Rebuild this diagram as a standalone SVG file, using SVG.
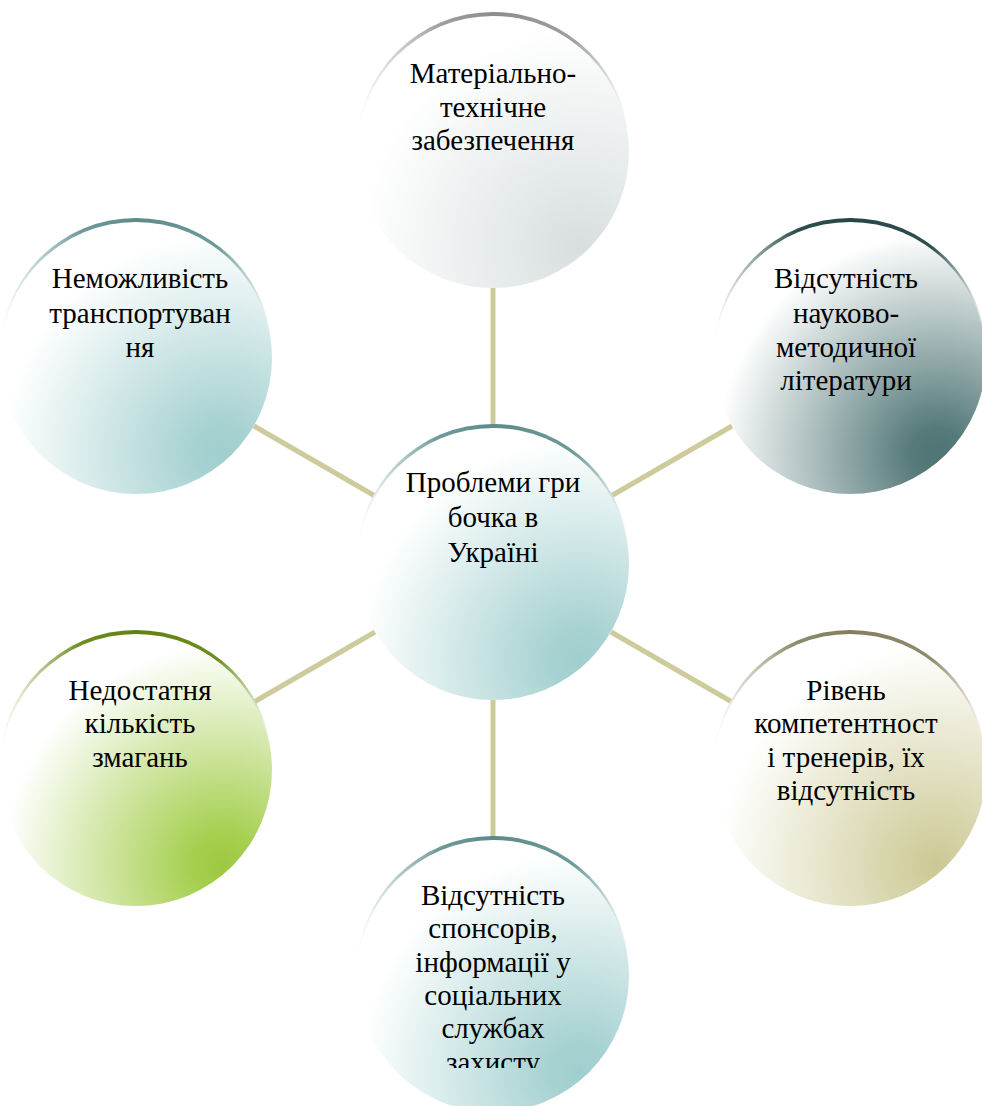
<svg xmlns="http://www.w3.org/2000/svg" width="982" height="1106" viewBox="0 0 982 1106">
<style>
text{font-family:"Liberation Serif","Times New Roman","DejaVu Serif",serif;font-size:29px;fill:#000;text-anchor:middle}
.con{stroke:#cdcb9b;stroke-width:5;fill:none}
</style>
<defs>
<radialGradient id="gTeal" cx="0.82" cy="0.85" r="0.95" fx="0.82" fy="0.85"><stop offset="0" stop-color="#a0cece"/><stop offset="0.12" stop-color="#a8d2d2"/><stop offset="0.85" stop-color="#ffffff"/></radialGradient>
<radialGradient id="gGrey" cx="0.82" cy="0.85" r="0.95" fx="0.82" fy="0.85"><stop offset="0" stop-color="#d8dede"/><stop offset="0.12" stop-color="#dde3e3"/><stop offset="0.85" stop-color="#ffffff"/></radialGradient>
<radialGradient id="gDark" cx="0.82" cy="0.85" r="0.95" fx="0.82" fy="0.85"><stop offset="0" stop-color="#4e7474"/><stop offset="0.1" stop-color="#567a7a"/><stop offset="0.85" stop-color="#ffffff"/></radialGradient>
<radialGradient id="gGreen" cx="0.82" cy="0.85" r="0.95" fx="0.82" fy="0.85"><stop offset="0" stop-color="#9dc840"/><stop offset="0.12" stop-color="#a6cf50"/><stop offset="0.85" stop-color="#ffffff"/></radialGradient>
<radialGradient id="gOlive" cx="0.82" cy="0.85" r="0.95" fx="0.82" fy="0.85"><stop offset="0" stop-color="#ccc894"/><stop offset="0.12" stop-color="#d3d0a2"/><stop offset="0.85" stop-color="#ffffff"/></radialGradient>
<linearGradient id="aTeal" x1="0" y1="0" x2="1" y2="0"><stop offset="0" stop-color="#ffffff"/><stop offset="0.3" stop-color="#6f9a9a"/><stop offset="0.5" stop-color="#5e8a8a"/><stop offset="0.8" stop-color="#6f9a9a"/><stop offset="1" stop-color="#ffffff"/></linearGradient>
<linearGradient id="aGrey" x1="0" y1="0" x2="1" y2="0"><stop offset="0" stop-color="#ffffff"/><stop offset="0.3" stop-color="#a0a0a0"/><stop offset="0.5" stop-color="#8c8c8c"/><stop offset="0.8" stop-color="#a0a0a0"/><stop offset="1" stop-color="#ffffff"/></linearGradient>
<linearGradient id="aDark" x1="0" y1="0" x2="1" y2="0"><stop offset="0" stop-color="#ffffff"/><stop offset="0.3" stop-color="#2f4f4f"/><stop offset="0.5" stop-color="#274545"/><stop offset="0.8" stop-color="#2f4f4f"/><stop offset="1" stop-color="#ffffff"/></linearGradient>
<linearGradient id="aGreen" x1="0" y1="0" x2="1" y2="0"><stop offset="0" stop-color="#ffffff"/><stop offset="0.3" stop-color="#6b8e1e"/><stop offset="0.5" stop-color="#5f8214"/><stop offset="0.8" stop-color="#6b8e1e"/><stop offset="1" stop-color="#ffffff"/></linearGradient>
<linearGradient id="aOlive" x1="0" y1="0" x2="1" y2="0"><stop offset="0" stop-color="#ffffff"/><stop offset="0.3" stop-color="#8e8c6a"/><stop offset="0.5" stop-color="#807e5c"/><stop offset="0.8" stop-color="#8e8c6a"/><stop offset="1" stop-color="#ffffff"/></linearGradient>
<clipPath id="clipBottom"><rect x="350" y="840" width="290" height="228"/></clipPath>
</defs>
<g id="connectors">
<line class="con" x1="493" y1="288" x2="493" y2="428"/>
<line class="con" x1="611" y1="496" x2="732" y2="426"/>
<line class="con" x1="611" y1="632" x2="732" y2="702"/>
<line class="con" x1="493" y1="700" x2="493" y2="840"/>
<line class="con" x1="375" y1="632" x2="254" y2="702"/>
<line class="con" x1="375" y1="496" x2="254" y2="426"/>
</g>
<g id="node-top">
<circle cx="493" cy="148" r="136" fill="url(#aGrey)"/>
<circle cx="493" cy="152" r="136" fill="url(#gGrey)"/>
<text x="493" y="83">Матеріально-</text>
<text x="493" y="117">технічне</text>
<text x="493" y="150">забезпечення</text>
</g>
<g id="node-upper-right">
<circle cx="850" cy="354" r="136" fill="url(#aDark)"/>
<circle cx="850" cy="358" r="136" fill="url(#gDark)"/>
<text x="846" y="288">Відсутність</text>
<text x="846" y="323">науково-</text>
<text x="846" y="357">методичної</text>
<text x="846" y="390">літератури</text>
</g>
<g id="node-lower-right">
<circle cx="850" cy="766" r="136" fill="url(#aOlive)"/>
<circle cx="850" cy="770" r="136" fill="url(#gOlive)"/>
<text x="846" y="700">Рівень</text>
<text x="846" y="733">компетентност</text>
<text x="846" y="767">і тренерів, їх</text>
<text x="846" y="800">відсутність</text>
</g>
<g id="node-bottom">
<circle cx="493" cy="972" r="136" fill="url(#aTeal)"/>
<circle cx="493" cy="976" r="136" fill="url(#gTeal)"/>
<g clip-path="url(#clipBottom)">
<text x="493" y="905">Відсутність</text>
<text x="493" y="938">спонсорів,</text>
<text x="493" y="972">інформації у</text>
<text x="493" y="1005">соціальних</text>
<text x="493" y="1038">службах</text>
<text x="493" y="1072">захисту</text>
</g>
</g>
<g id="node-lower-left">
<circle cx="136" cy="766" r="136" fill="url(#aGreen)"/>
<circle cx="136" cy="770" r="136" fill="url(#gGreen)"/>
<text x="140" y="700">Недостатня</text>
<text x="140" y="733">кількість</text>
<text x="140" y="767">змагань</text>
</g>
<g id="node-upper-left">
<circle cx="136" cy="354" r="136" fill="url(#aTeal)"/>
<circle cx="136" cy="358" r="136" fill="url(#gTeal)"/>
<text x="140" y="288">Неможливість</text>
<text x="140" y="323">транспортуван</text>
<text x="140" y="357">ня</text>
</g>
<g id="node-center">
<circle cx="493" cy="560" r="136" fill="url(#aTeal)"/>
<circle cx="493" cy="564" r="136" fill="url(#gTeal)"/>
<text x="493" y="492">Проблеми гри</text>
<text x="493" y="527">бочка в</text>
<text x="493" y="562">Україні</text>
</g>
</svg>
